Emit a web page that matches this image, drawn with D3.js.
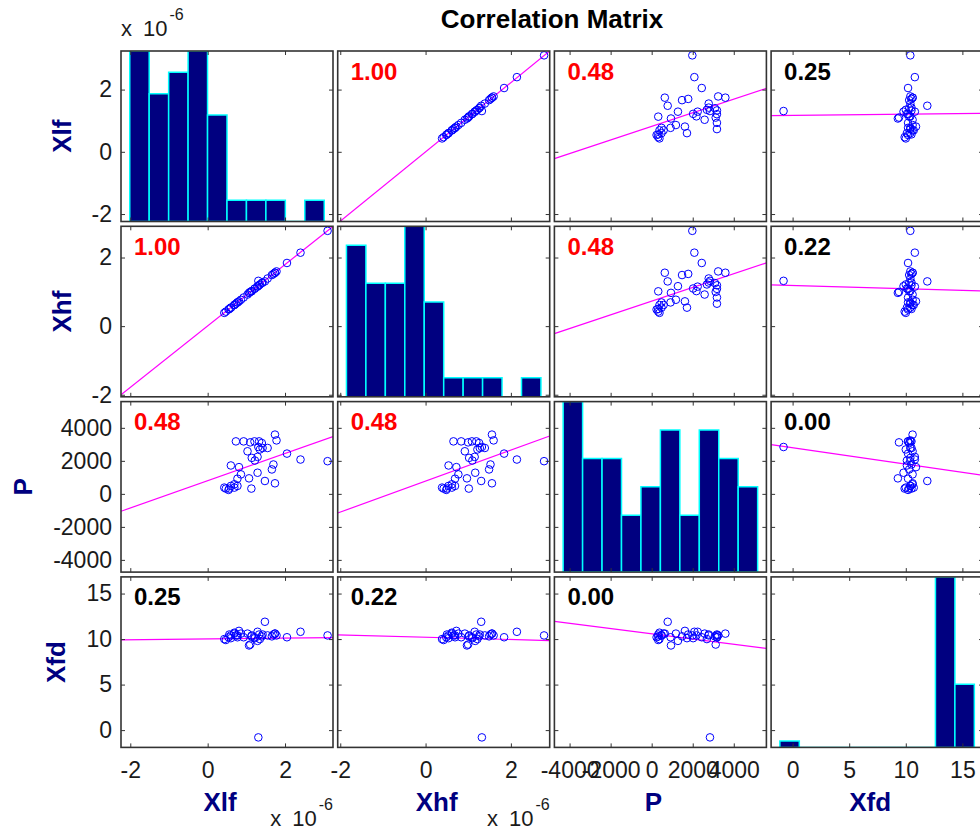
<!DOCTYPE html>
<html>
<head>
<meta charset="utf-8">
<script src="https://cdnjs.cloudflare.com/ajax/libs/d3/7.8.5/d3.min.js"></script>
<style>
body { margin: 0; background: #fff; }
svg { display: block; font-family: Arial, 'Liberation Sans', sans-serif; }
</style>
</head>
<body>
<script>
// data (Xlf, Xhf in units of 1e-6)
var varNames = ['Xlf', 'Xhf', 'P', 'Xfd'];

var xlf = [1.74, 1.78, 0.73, 0.93, 1.10, 1.21, 1.33, 1.40, 1.31, 1.42,
           1.55, 1.03, 1.35, 1.14, 1.29, 1.22, 2.05, 2.40, 3.10, 0.60,
           0.81, 1.70, 1.66, 1.29, 0.86, 1.07, 0.77, 1.48, 1.74, 0.69,
           0.60, 0.47, 0.56, 0.69, 0.77, 1.13, 0.54, 0.43];
var xhf = [1.556, 1.595, 0.654, 0.835, 0.997, 1.087, 1.190, 1.256, 1.320, 1.271,
           1.389, 0.921, 1.215, 1.021, 1.151, 1.097, 1.841, 2.141, 2.778, 0.539,
           0.722, 1.522, 1.489, 1.164, 0.769, 0.970, 0.691, 1.304, 1.556, 0.617,
           0.538, 0.423, 0.501, 0.616, 0.690, 1.014, 0.485, 0.387];
var pVal = [3590, 3240, 3180, 3180, 3120, 3180, 3180, 3080, 2840, 2780,
            2780, 2580, 2690, 2180, 2240, 2020, 2440, 2080, 1980, 1720,
            1620, 1780, 1480, 1280, 1180, 940, 920, 780, 640, 580,
            480, 320, 320, 380, 480, 320, 240, 380];
var xfd = [10.6, 10.4, 10.4, 10.2, 9.4, 10.2, 10.5, 10.3, -0.8, 10.5,
           10.4, 10.6, 10.0, 10.4, 10.8, 10.1, 10.2, 10.8, 10.4, 10.1,
           10.9, 10.5, 10.3, 9.8, 10.6, 9.3, 10.2, 11.9, 10.6, 10.6,
           10.4, 9.9, 10.5, 10.7, 10.4, 10.3, 10.2, 10.0];

var axisDomains = [[-2.24, 3.24], [-2.06, 2.91], [-4740, 5590], [-1.9, 16.83]];
var axisTicks = [[-2, 0, 2], [-2, 0, 2], [-4000, -2000, 0, 2000, 4000], [0, 5, 10, 15]];

// histogram bin counts on the diagonal (10 bins each)
var histCounts = [
	[8, 6, 7, 8, 5, 1, 1, 1, 0, 1],
	[8, 6, 6, 9, 5, 1, 1, 1, 0, 1],
	[6, 4, 4, 2, 3, 5, 2, 5, 4, 3],
	[1, 0, 0, 0, 0, 0, 0, 0, 27, 10]
];

var corrText = [
	['', '1.00', '0.48', '0.25'],
	['1.00', '', '0.48', '0.22'],
	['0.48', '0.48', '', '0.00'],
	['0.25', '0.22', '0.00', '']
];
var corrSig = [
	[0, 1, 1, 0],
	[1, 0, 1, 0],
	[1, 1, 0, 0],
	[0, 0, 0, 0]
];
var sciNote = [true, true, false, false];

var series = [xlf, xhf, pVal, xfd];


// layout
var width = 980, height = 833;
var margin = {left: 121, top: 51};
var panelW = 212, panelH = 170.5, stepX = 216.7, stepY = 175.3;
var navy = '#000080';

var svg = d3.select('body').append('svg')
	.attr('width', width)
	.attr('height', height);

svg.append('defs').append('clipPath')
	.attr('id', 'clip')
	.append('rect')
	.attr('width', panelW)
	.attr('height', panelH);

var xScales = axisDomains.map(function(d) {
	return d3.scaleLinear().domain(d).range([0, panelW]);
});
var yScales = axisDomains.map(function(d) {
	return d3.scaleLinear().domain(d).range([panelH, 0]);
});

// least squares fit of ys on xs
function fitLine(xs, ys) {
	var mx = d3.mean(xs), my = d3.mean(ys);
	var sxy = d3.sum(xs, function(v, k) { return (v - mx) * (ys[k] - my); });
	var sxx = d3.sum(xs, function(v) { return (v - mx) * (v - mx); });
	var b = sxy / sxx;
	return function(v) { return my + b * (v - mx); };
}

function fmt(d) { return String(d); }

function styleAxis(g) {
	g.select('.domain').remove();
	g.selectAll('.tick line').attr('stroke', '#333').attr('stroke-width', 1);
	g.selectAll('.tick text')
		.attr('fill', '#1a1a1a')
		.style('font-size', '23px')
		.style('font-family', "Arial, 'Liberation Sans', sans-serif");
}

var leftAxes = [];

for (var i = 0; i < 4; i++) {
	for (var j = 0; j < 4; j++) {
		var x = xScales[j], y = yScales[i];
		var g = svg.append('g')
			.attr('transform', 'translate(' + (margin.left + j * stepX) + ',' + (margin.top + i * stepY) + ')');

		var plot = g.append('g').attr('clip-path', 'url(#clip)');

		if (i === j) {
			// histogram
			var counts = histCounts[i];
			var hx = d3.scaleLinear().domain([-0.45, counts.length + 0.45]).range([0, panelW]);
			var hy = d3.scaleLinear().domain([0, d3.max(counts)]).range([panelH, 0]);
			plot.selectAll('.bar')
				.data(counts)
				.enter().append('path')
				.attr('class', 'bar')
				.attr('d', function(d, k) {
					return 'M' + hx(k) + ',' + hy(0) + 'V' + hy(d) + 'H' + hx(k + 1) + 'V' + hy(0) + 'Z';
				})
				.attr('fill', navy)
				.attr('stroke', '#00ffff')
				.attr('stroke-width', 1.5);
		} else {
			var xs = series[j], ys = series[i];
			var f = fitLine(xs, ys);
			var xd = x.domain();

			plot.append('line')
				.attr('x1', x(xd[0]))
				.attr('y1', y(f(xd[0])))
				.attr('x2', x(xd[1]))
				.attr('y2', y(f(xd[1])))
				.attr('stroke', '#ff00ff')
				.attr('stroke-width', 1.2);

			plot.selectAll('circle')
				.data(xs)
				.enter().append('circle')
				.attr('cx', function(d) { return x(d); })
				.attr('cy', function(d, k) { return y(ys[k]); })
				.attr('r', 3.8)
				.attr('fill', 'none')
				.attr('stroke', '#0000ff')
				.attr('stroke-width', 1);

			g.append('text')
				.attr('x', 13)
				.attr('y', 28.5)
				.style('font-size', '24px')
				.style('font-weight', 'bold')
				.attr('fill', corrSig[i][j] ? '#ff0000' : '#000')
				.text(corrText[i][j]);
		}

		// axes with inward ticks on all four sides
		var la = g.append('g')
			.call(d3.axisLeft(y).tickValues(axisTicks[i]).tickSize(-4).tickPadding(9)
				.tickFormat(j === 0 ? fmt : ''))
			.call(styleAxis);
		if (j === 0) leftAxes.push(la);

		g.append('g')
			.attr('transform', 'translate(' + panelW + ',0)')
			.call(d3.axisRight(y).tickValues(axisTicks[i]).tickSize(-4).tickFormat(''))
			.call(styleAxis);

		g.append('g')
			.call(d3.axisTop(x).tickValues(axisTicks[j]).tickSize(-4).tickFormat(''))
			.call(styleAxis);

		g.append('g')
			.attr('transform', 'translate(0,' + panelH + ')')
			.call(d3.axisBottom(x).tickValues(axisTicks[j]).tickSize(-4).tickPadding(14)
				.tickFormat(i === 3 ? fmt : ''))
			.call(styleAxis);

		g.append('rect')
			.attr('width', panelW)
			.attr('height', panelH)
			.attr('fill', 'none')
			.attr('stroke', '#333')
			.attr('stroke-width', 1.6);
	}
}


// row labels, placed left of the tick labels
leftAxes.forEach(function(a, i) {
	var minX = d3.min(a.selectAll('.tick text').nodes(), function(n) { return n.getBBox().x; });
	var cy = margin.top + i * stepY + panelH / 2;
	svg.append('text')
		.attr('transform', 'translate(' + (margin.left + minX - 21) + ',' + cy + ') rotate(-90)')
		.attr('text-anchor', 'middle')
		.style('font-size', '26px')
		.style('font-weight', 'bold')
		.attr('fill', navy)
		.text(varNames[i]);
});

// column labels
varNames.forEach(function(name, j) {
	svg.append('text')
		.attr('x', margin.left + j * stepX + panelW / 2 - 7)
		.attr('y', 811)
		.attr('text-anchor', 'middle')
		.style('font-size', '26px')
		.style('font-weight', 'bold')
		.attr('fill', navy)
		.text(name);
});

// scale factor notes
function sciLabel(xPos, yPos, anchor) {
	var t = svg.append('text')
		.attr('x', xPos)
		.attr('y', yPos)
		.attr('text-anchor', anchor)
		.attr('fill', '#1a1a1a')
		.style('font-size', '22px');
	t.append('tspan').text('x');
	t.append('tspan').attr('dx', 11).text('10');
	t.append('tspan')
		.attr('dy', -16)
		.attr('dx', 2)
		.style('font-size', '16px')
		.text('-6');
}

sciLabel(margin.left, 36, 'start');
sciNote.forEach(function(s, j) {
	if (s) sciLabel(margin.left + j * stepX + panelW, 826, 'end');
});

// title
svg.append('text')
	.attr('x', margin.left + (3 * stepX + panelW) / 2)
	.attr('y', 28)
	.attr('text-anchor', 'middle')
	.style('font-size', '26px')
	.style('font-weight', 'bold')
	.attr('fill', '#000')
	.text('Correlation Matrix');
</script>
</body>
</html>
